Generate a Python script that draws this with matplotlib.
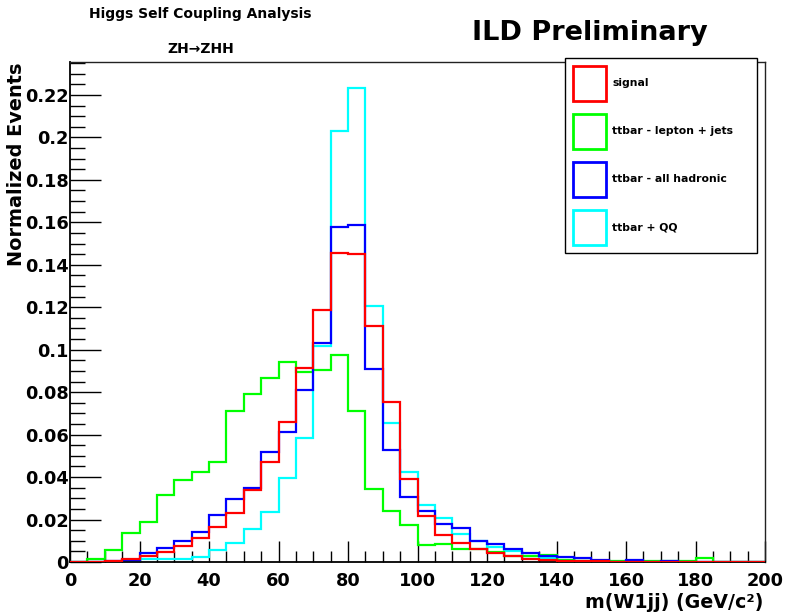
import numpy as np
import matplotlib
matplotlib.use("Agg")
import matplotlib.pyplot as plt
from matplotlib.patches import Patch
from matplotlib.ticker import MultipleLocator, FuncFormatter

plt.rcParams['font.family'] = ['DejaVu Sans']
plt.rcParams['font.weight'] = 'bold'

# bin edges: 0..200 GeV in 5 GeV bins
bin_edges = np.arange(0, 205, 5)

signal = [0.0, 0.0, 0.0006, 0.0013, 0.0028, 0.0049, 0.0075, 0.0115, 0.0163, 0.0230,
          0.0339, 0.0470, 0.0658, 0.0912, 0.1187, 0.1457, 0.1451, 0.1113, 0.0753, 0.0391,
          0.0217, 0.0127, 0.0088, 0.0061, 0.0043, 0.0027, 0.0016, 0.0011, 0.0007, 0.0005,
          0.0003, 0.0002, 0.0002, 0.0001, 0.0001, 0.0001, 0.0001, 0.0001, 0.0001, 0.0001]

lepton_jets = [0.0, 0.0013, 0.0057, 0.0135, 0.0187, 0.0316, 0.0386, 0.0424, 0.0471, 0.0711,
               0.0790, 0.0868, 0.0943, 0.0897, 0.0904, 0.0975, 0.0711, 0.0344, 0.0240, 0.0173,
               0.0078, 0.0087, 0.0060, 0.0060, 0.0045, 0.0030, 0.0030, 0.0032, 0.0008, 0.0007,
               0.0004, 0.0004, 0.0004, 0.0004, 0.0004, 0.0004, 0.0019, 0.0, 0.0, 0.0]

all_hadronic = [0.0, 0.0, 0.0003, 0.0010, 0.0044, 0.0064, 0.0100, 0.0143, 0.0221, 0.0297,
                0.0350, 0.0517, 0.0611, 0.0810, 0.1030, 0.1580, 0.1587, 0.0908, 0.0528, 0.0305,
                0.0240, 0.0180, 0.0162, 0.0099, 0.0083, 0.0063, 0.0041, 0.0028, 0.0023, 0.0017,
                0.0011, 0.0002, 0.0010, 0.0002, 0.0006, 0.0, 0.0, 0.0, 0.0, 0.0]

ttbar_qq = [0.0, 0.0, 0.0, 0.0003, 0.0012, 0.0012, 0.0012, 0.0025, 0.0055, 0.0089,
            0.0155, 0.0237, 0.0397, 0.0583, 0.1019, 0.2030, 0.2231, 0.1208, 0.0654, 0.0424,
            0.0270, 0.0208, 0.0130, 0.0101, 0.0070, 0.0050, 0.0030, 0.0020, 0.0010, 0.0007,
            0.0003, 0.0, 0.0, 0.0, 0.0, 0.0, 0.0, 0.0, 0.0, 0.0]

labels = ["signal", "ttbar - lepton + jets", "ttbar - all hadronic", "ttbar + QQ"]
colors = ["#ff0000", "#00ff00", "#0000ff", "#00ffff"]

W, H = 788, 616
fig = plt.figure(figsize=(W / 100, H / 100), dpi=100)
ax = fig.add_axes([70 / W, 54 / H, 695 / W, 500 / H])

lw = 1.6
ax.stairs(ttbar_qq, bin_edges, color=colors[3], lw=lw, zorder=2)
ax.stairs(lepton_jets, bin_edges, color=colors[1], lw=lw, zorder=3)
ax.stairs(all_hadronic, bin_edges, color=colors[2], lw=lw, zorder=4)
ax.stairs(signal, bin_edges, color=colors[0], lw=lw, zorder=5)

ax.set_xlim(0, 200)
ax.set_ylim(0, 0.2355)

ax.xaxis.set_major_locator(MultipleLocator(20))
ax.xaxis.set_minor_locator(MultipleLocator(5))
ax.yaxis.set_major_locator(MultipleLocator(0.02))
ax.yaxis.set_minor_locator(MultipleLocator(0.005))
ax.yaxis.set_major_formatter(FuncFormatter(lambda v, p: "0" if abs(v) < 1e-9 else "%g" % v))

ax.tick_params(axis='x', which='major', direction='in', length=15, width=1,
               labelsize=12.8, pad=7, top=False)
ax.tick_params(axis='x', which='minor', direction='in', length=8, width=1, top=False)
ax.tick_params(axis='y', which='major', direction='in', length=22, width=1,
               labelsize=12.8, pad=1, right=False)
ax.tick_params(axis='y', which='minor', direction='in', length=11, width=1, right=False)
for t in ax.get_xticklabels() + ax.get_yticklabels():
    t.set_fontweight('bold')

for s in ['left', 'bottom']:
    ax.spines[s].set_linewidth(1.3)
    ax.spines[s].set_color('black')
for s in ['top', 'right']:
    ax.spines[s].set_linewidth(1.0)
    ax.spines[s].set_color('#222222')

handles = [Patch(facecolor='none', edgecolor=c, lw=2) for c in colors]
leg = ax.legend(handles, labels, loc='upper left',
                bbox_to_anchor=(565 / W, 1 - 252 / H, 192 / W, 194 / H),
                bbox_transform=fig.transFigure, mode='expand', borderaxespad=0,
                fontsize=7.8, handlelength=3.1, handleheight=4.6, labelspacing=1.21,
                handletextpad=0.55, borderpad=0.7, fancybox=False, framealpha=1,
                edgecolor='black', facecolor='white')
leg.get_frame().set_linewidth(1.0)
for t in leg.get_texts():
    t.set_fontweight('bold')
leg.set_zorder(10)

fig.text(17 / W, 1 - 63 / H, "Normalized Events", rotation=90, ha='center', va='top',
         fontsize=13.9, fontweight='bold')
fig.text(763 / W, 1 - 608 / H, "m(W1jj) (GeV/c\u00b2)", ha='right', va='baseline',
         fontsize=13.7, fontweight='bold')
fig.text(590 / W, 1 - 33 / H, "ILD Preliminary", ha='center', va='center',
         fontsize=19.5, fontweight='bold')
fig.text(200 / W, 1 - 18 / H, "Higgs Self Coupling Analysis", ha='center', va='baseline',
         fontsize=10, fontweight='bold')
fig.text(201 / W, 1 - 53 / H, "ZH\u2192ZHH", ha='center', va='baseline',
         fontsize=10, fontweight='bold')

fig.savefig("out.png", dpi=100)
